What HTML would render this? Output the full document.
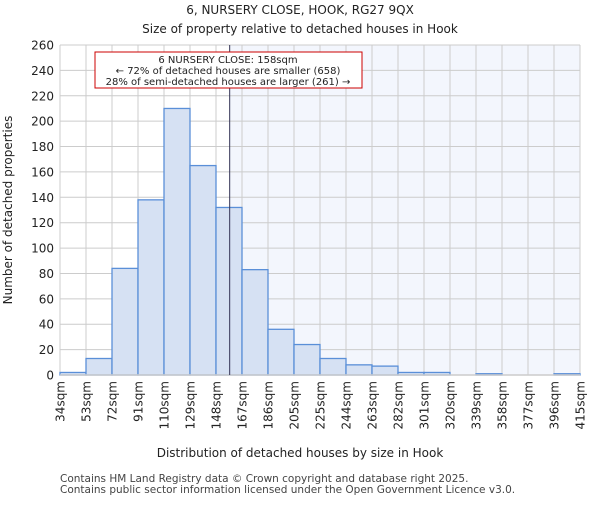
<!DOCTYPE html>
<html><head><meta charset="utf-8"><style>
body{margin:0;background:#fff;font-family:"Liberation Sans","DejaVu Sans",sans-serif;}
svg text{font-family:"DejaVu Sans","Liberation Sans",sans-serif;}
</style></head><body>
<svg id="c" width="600" height="500" xmlns="http://www.w3.org/2000/svg">
<text x="300" y="14" text-anchor="middle" font-size="12" fill="#222">6, NURSERY CLOSE, HOOK, RG27 9QX</text>
<text x="300" y="33" text-anchor="middle" font-size="12" fill="#222">Size of property relative to detached houses in Hook</text>
<g id="plot"></g>
<text x="300" y="457" text-anchor="middle" font-size="12" fill="#222">Distribution of detached houses by size in Hook</text>
<text transform="translate(12,210) rotate(-90)" text-anchor="middle" font-size="12" fill="#222">Number of detached properties</text>
<text x="60" y="482" font-size="10.5" fill="#444">Contains HM Land Registry data © Crown copyright and database right 2025.</text>
<text x="60" y="493" font-size="10.5" fill="#444">Contains public sector information licensed under the Open Government Licence v3.0.</text>
</svg>
<script>
const binLabels=["34sqm","53sqm","72sqm","91sqm","110sqm","129sqm","148sqm","167sqm","186sqm","205sqm","225sqm","244sqm","263sqm","282sqm","301sqm","320sqm","339sqm","358sqm","377sqm","396sqm","415sqm"];
const counts=[2,13,84,138,210,165,132,83,36,24,13,8,7,2,2,0,1,0,0,1];
const yTicks=[0,20,40,60,80,100,120,140,160,180,200,220,240,260];
const propertySize=158;
const binEdges=[34,53,72,91,110,129,148,167,186,205,225,244,263,282,301,320,339,358,377,396,415];
const NS="http://www.w3.org/2000/svg";
const L=60,R=580,T=45,B=375,yMax=260;
const nb=counts.length;
const xi=i=>L+(R-L)*i/nb;
const y=v=>B-(B-T)*v/yMax;
function xv(v){for(let i=0;i<nb;i++){if(v<=binEdges[i+1]){return xi(i)+(xi(i+1)-xi(i))*(v-binEdges[i])/(binEdges[i+1]-binEdges[i]);}}return R;}
const g=document.getElementById('plot');
function mk(t,a){const e=document.createElementNS(NS,t);for(const k in a)e.setAttribute(k,a[k]);g.appendChild(e);return e;}
const px=xv(propertySize);
let e=mk('rect',{x:px,y:T,width:R-px,height:B-T,fill:'#f3f6fd'});


yTicks.forEach(t=>{let l=mk('line',{x1:L,x2:R,y1:y(t),y2:y(t),stroke:'#ccc','stroke-width':1});


let tx=mk('text',{x:L-6,y:y(t)+4.5,'text-anchor':'end','font-size':12,fill:'#222'});tx.textContent=t;

});
binLabels.forEach((s,i)=>{let l=mk('line',{x1:xi(i),x2:xi(i),y1:T,y2:B,stroke:'#ccc','stroke-width':1});


let tx=mk('text',{transform:`translate(${xi(i)+4.5},${B+6}) rotate(-90)`,'text-anchor':'end','font-size':12,fill:'#222'});tx.textContent=s;

});
counts.forEach((c,i)=>{if(c<=0)return;let r=mk('rect',{x:xi(i),y:y(c),width:xi(i+1)-xi(i),height:B-y(c),fill:'#d6e1f3',stroke:'#5a8fd8','stroke-width':1.3});

});
e=mk('line',{x1:L,x2:R,y1:B,y2:B,stroke:'#ccc','stroke-width':1.5});


e=mk('line',{x1:px,x2:px,y1:T,y2:B,stroke:'#333355','stroke-width':1});


e=mk('rect',{x:95,y:52,width:267,height:36,fill:'#fff',stroke:'#c00','stroke-width':1});


["6 NURSERY CLOSE: 158sqm","← 72% of detached houses are smaller (658)","28% of semi-detached houses are larger (261) →"].forEach((s,i)=>{let tx=mk('text',{x:228,y:63+i*11,'text-anchor':'middle','font-size':10,fill:'#222'});tx.textContent=s;

});
</script>
</body></html>
